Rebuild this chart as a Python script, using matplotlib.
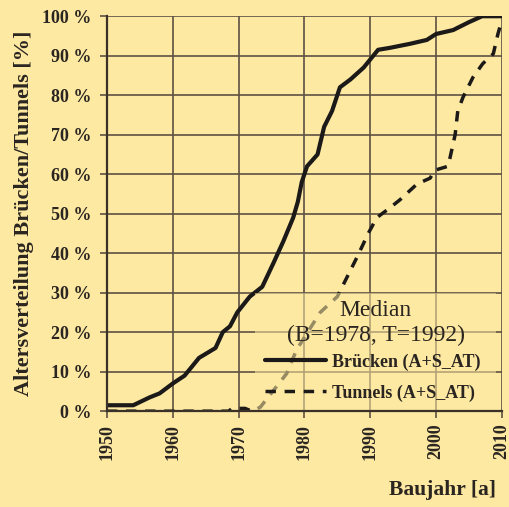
import matplotlib
matplotlib.use("Agg")
import matplotlib.pyplot as plt
from matplotlib.ticker import FuncFormatter
from matplotlib.patches import Rectangle

# ---- data ----
bridge_years = [1950, 1954, 1956.5, 1958, 1960, 1961.8, 1964, 1966.5, 1967.6, 1968.7,
                1969.8, 1971.7, 1973.6, 1975.3, 1976.8, 1978.3, 1979, 1979.6, 1980.4,
                1982, 1983, 1984.2, 1985.4, 1987, 1989, 1991.2, 1993, 1996, 1998.6,
                2000, 2002.6, 2005, 2007, 2010]
bridge_pct = [1.5, 1.5, 3.5, 4.5, 7, 9, 13.5, 16, 20, 21.5,
              25, 29, 31.5, 37.5, 43, 49, 53, 58, 62,
              65, 72, 76, 82, 84, 87, 91.5, 92, 93, 94,
              95.5, 96.5, 98.5, 100, 100]

tunnel_years = [1950, 1968.5, 1969, 1971, 1972, 1973.3, 1977.3, 1978.8, 1982.4, 1985,
                1986.5, 1988, 1989.7, 1991, 1993, 1994.5, 1997.1, 1999.1, 1999.8,
                2001.8, 2002.1, 2002.9, 2003.3, 2004.1, 2005.6, 2007.1, 2008.7,
                2009.4, 2010]
tunnel_pct = [0, 0, 0.7, 0.7, 0, 1, 9.5, 15.5, 25, 29,
              34, 39, 45, 49, 51.5, 53.5, 57.5, 59, 61,
              62, 64, 70, 76, 79.5, 84.5, 88, 90.5,
              95.5, 99]

x_ticks = [1950, 1960, 1970, 1980, 1990, 2000, 2010]
y_ticks = [0, 10, 20, 30, 40, 50, 60, 70, 80, 90, 100]
label_bridges = "Brücken (A+S_AT)"
label_tunnels = "Tunnels (A+S_AT)"
legend_title_1 = "Median"
legend_title_2 = "(B=1978, T=1992)"

bg = "#FDE9A2"
grid_c = "#5e5142"
line_c = "#1c1a18"
txt_c = "#2a2520"
serif = ["Liberation Serif", "DejaVu Serif"]

fig = plt.figure(figsize=(5.09, 5.07), dpi=100, facecolor=bg)
ax = fig.add_axes([0.210, 0.189, 0.776, 0.779], facecolor=bg)

ax.plot(bridge_years, bridge_pct, color=line_c, lw=3.0, solid_capstyle="round",
        label=label_bridges, zorder=3)
ax.plot(tunnel_years, tunnel_pct, color=line_c, lw=2.5, dashes=(3, 2.5),
        label=label_tunnels, zorder=3)

ax.set_xlim(1950, 2010)
ax.set_ylim(0, 100)
ax.set_xticks(x_ticks)
ax.set_yticks(y_ticks)
ax.yaxis.set_major_formatter(FuncFormatter(lambda v, p: f"{int(v)} %"))
ax.grid(True, color=grid_c, lw=1.2, zorder=1)
for s in ax.spines.values():
    s.set_visible(False)
for side in ("left", "bottom"):
    ax.spines[side].set_visible(True)
    ax.spines[side].set_color("#3a3128")
    ax.spines[side].set_linewidth(1.6)
    ax.spines[side].set_zorder(6)
ax.tick_params(axis="both", direction="out", length=5, width=1.2, color=grid_c)
ax.tick_params(axis="y", pad=6)
ax.tick_params(axis="x", pad=4)

for t in ax.get_yticklabels():
    t.set_fontfamily(serif); t.set_fontsize(13); t.set_fontweight("bold"); t.set_color(txt_c)
for t in ax.get_xticklabels():
    t.set_fontfamily(serif); t.set_fontsize(13); t.set_fontweight("bold"); t.set_color(txt_c)
    t.set_rotation(90)
    t.set_va("top")

ax.set_ylabel("Altersverteilung Brücken/Tunnels [%]", fontfamily=serif, fontsize=16,
              fontweight="bold", color=txt_c, labelpad=6)
fig.text(0.974, 0.033, "Baujahr [a]", ha="right", va="center", fontfamily=serif,
         fontsize=15.5, fontweight="bold", color=txt_c)

# translucent legend area
ax.add_patch(Rectangle((0.375, 0.0), 0.61, 0.30, transform=ax.transAxes,
                       facecolor=bg, edgecolor="none", alpha=0.55, zorder=4))
ax.text(0.681, 0.256, legend_title_1, transform=ax.transAxes, ha="center", va="center",
        fontfamily=serif, fontsize=17, color=txt_c, zorder=7)
ax.text(0.681, 0.192, legend_title_2, transform=ax.transAxes, ha="center", va="center",
        fontfamily=serif, fontsize=17, color=txt_c, zorder=7)

leg = ax.legend(loc="center left", bbox_to_anchor=(0.400, 0.085), borderaxespad=0.0,
                frameon=False, prop={"family": serif, "size": 13, "weight": "bold"},
                handlelength=3.4, handletextpad=0.33, labelspacing=0.77,
                borderpad=0.0)
leg.set_zorder(7)
for t in leg.get_texts():
    t.set_color(txt_c)

fig.savefig("out.png", dpi=100, facecolor=bg)
